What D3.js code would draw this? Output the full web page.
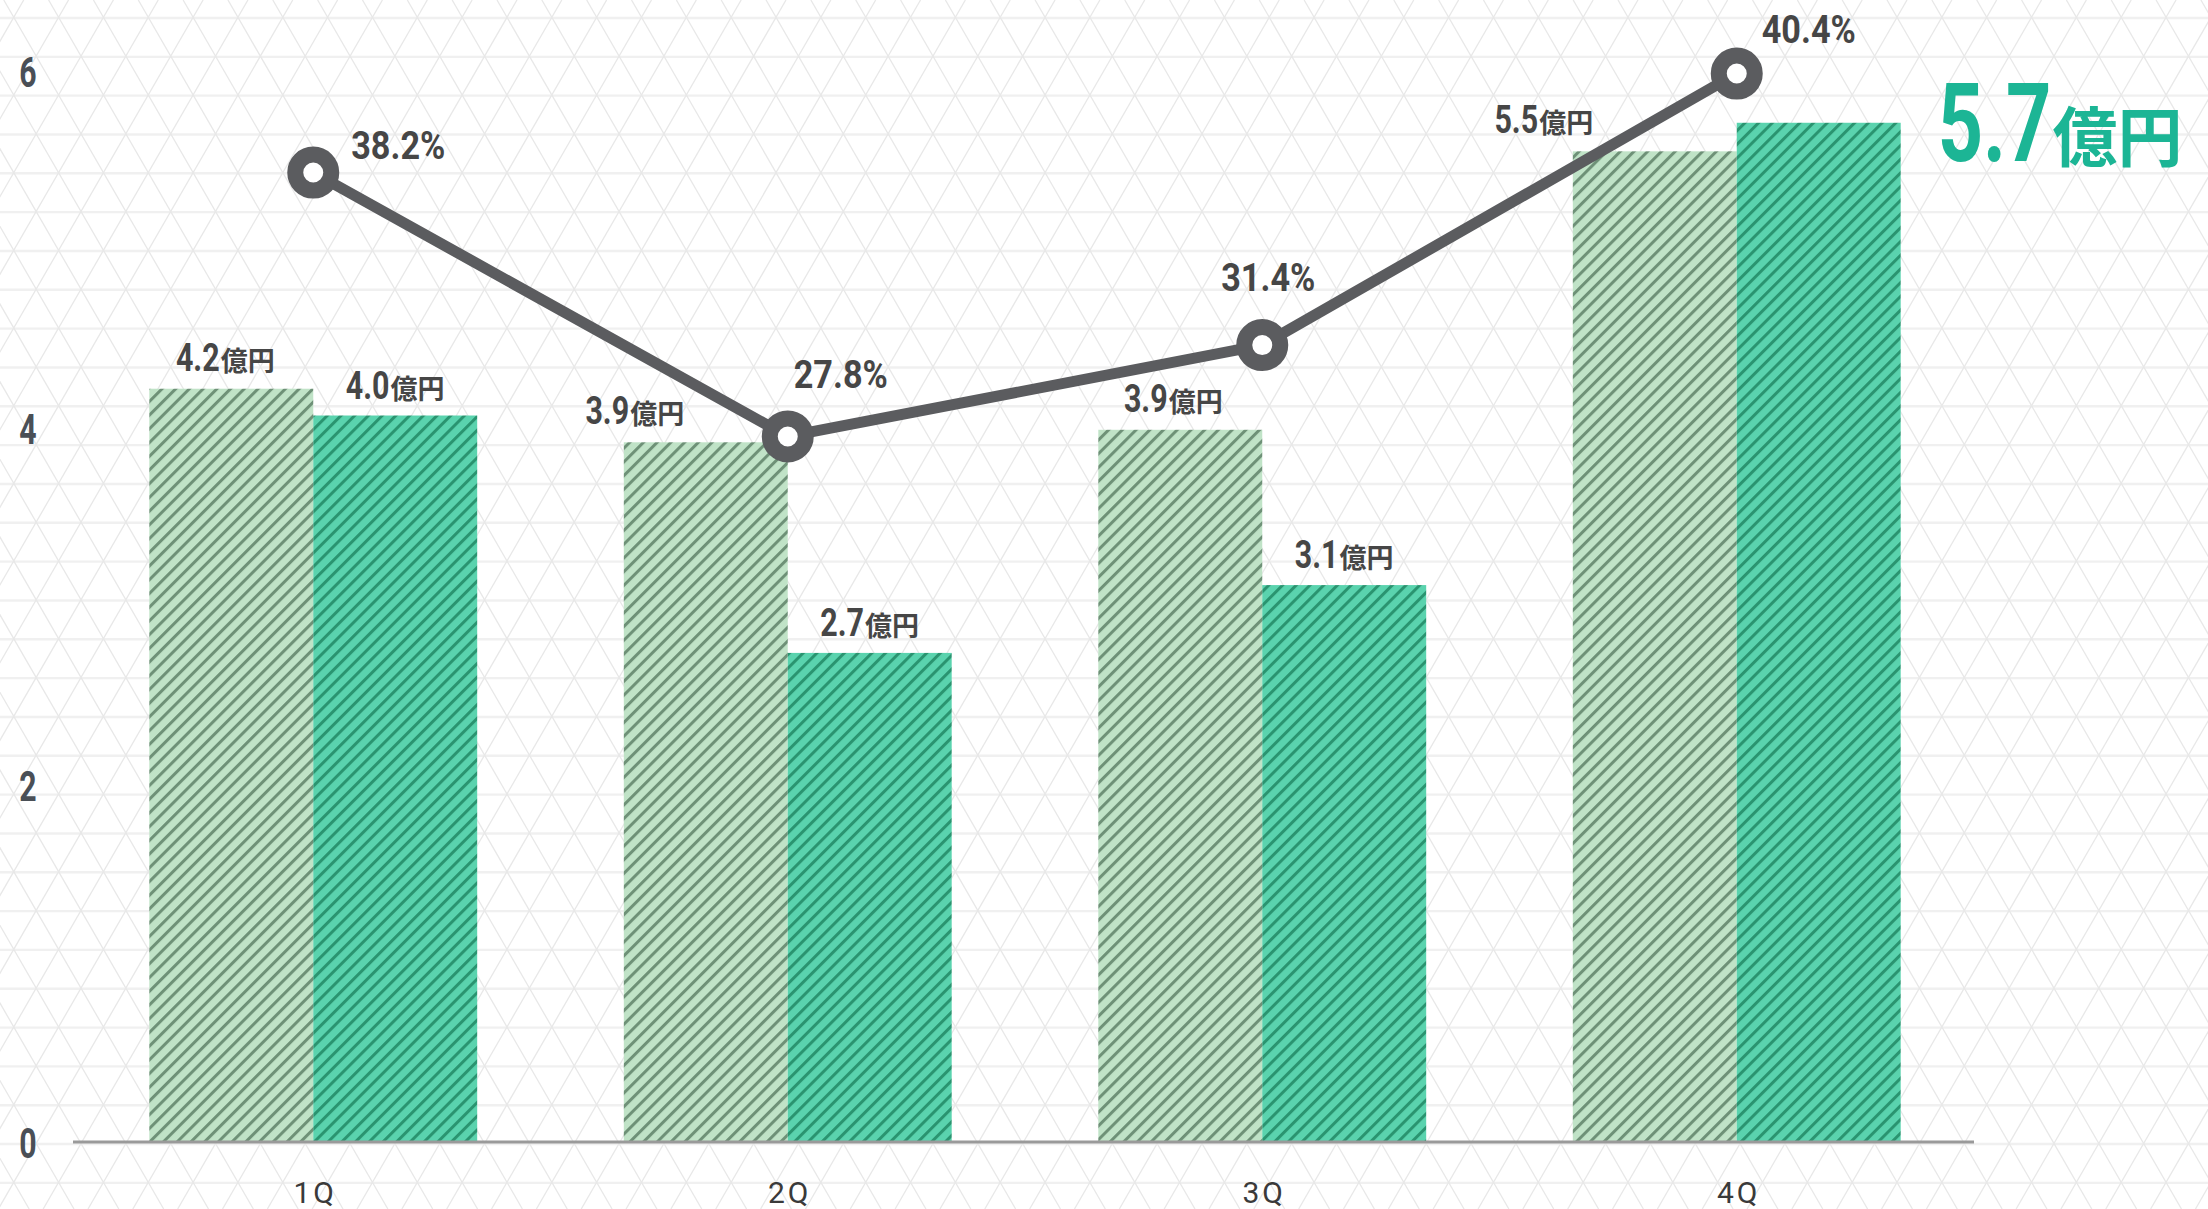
<!DOCTYPE html>
<html><head><meta charset="utf-8">
<script src="https://cdn.jsdelivr.net/npm/d3@7"></script>
<style>body{margin:0;background:#fff;overflow:hidden}</style>
</head><body><svg id="c" width="2208" height="1209"></svg>
<script>
// ---- data ----
const quarters = ["1Q", "2Q", "3Q", "4Q"];
const prevValues = [4.22, 3.92, 3.99, 5.55];
const currValues = [4.07, 2.74, 3.12, 5.71];
const prevLabels = ["4.2", "3.9", "3.9", "5.5"];
const currLabels = ["4.0", "2.7", "3.1", "5.7"];
const rateValues = [38.2, 27.8, 31.4, 42.1];
const rateLabels = ["38.2%", "27.8%", "31.4%", "40.4%"];
const yTicks = [0, 2, 4, 6];
const unit = "億円";

// ---- layout ----
const W = 2208, H = 1209;
const prevLabelDx = [-6, -71, -7, -111];
const rateLabelOffset = [[38, -14], [6, -48], [-41, -54], [25, -31]];
const NUM_FONT = "Roboto, 'Liberation Sans', sans-serif";
const CJK_FONT = "'Noto Sans CJK JP','Noto Sans CJK SC',sans-serif";

const svg = d3.select("#c");
const defs = svg.append("defs");

function stripe(id, bg, fg) {
  const p = defs.append("pattern").attr("id", id)
    .attr("patternUnits", "userSpaceOnUse")
    .attr("width", 9.7).attr("height", 9.7)
    .attr("patternTransform", "rotate(45)");
  p.append("rect").attr("width", 9.7).attr("height", 9.7).attr("fill", bg);
  p.append("rect").attr("x", 0).attr("width", 3.0).attr("height", 9.7).attr("fill", fg);
}
stripe("pPrev", "#c0e3c7", "#6e9177");
stripe("pCurr", "#5ad3ae", "#2a9470");

// ---- background lattice ----
const bg = svg.append("g");
const hStep = 38.83, vStep = 44.84, y0 = 483.3, x0 = 1986.7, s3 = Math.sqrt(3);
for (let k = -1; k < 33; k++) {
  const yy = 18 + k * hStep;
  bg.append("line").attr("x1", 0).attr("x2", W).attr("y1", yy).attr("y2", yy)
    .attr("stroke", "#f0f0f0").attr("stroke-width", 2.4);
}
for (let m = -60; m < 20; m++) {
  const xv = x0 + m * vStep;
  bg.append("line")
    .attr("x1", xv + (0 - y0) / s3).attr("y1", 0)
    .attr("x2", xv + (H - y0) / s3).attr("y2", H)
    .attr("stroke", "#e8e8e8").attr("stroke-width", 1.3);
  bg.append("line")
    .attr("x1", xv - (0 - y0) / s3).attr("y1", 0)
    .attr("x2", xv - (H - y0) / s3).attr("y2", H)
    .attr("stroke", "#e8e8e8").attr("stroke-width", 1.3);
}

// ---- scales ----
const x = d3.scaleBand().domain(quarters).range([76, 1974]).paddingInner(0.309).paddingOuter(0.1545);
const y = d3.scaleLinear().domain([0, 6]).range([1142, 71]);
const r = d3.scaleLinear().domain([0, 42.2]).range([1142, 71]);
const bw = x.bandwidth() / 2;
const cx = q => x(q) + x.bandwidth() / 2;

// ---- bars ----
svg.append("g").selectAll("rect").data(quarters).join("rect")
  .attr("x", q => x(q)).attr("width", bw)
  .attr("y", (q, i) => y(prevValues[i])).attr("height", (q, i) => y(0) - y(prevValues[i]))
  .attr("fill", "url(#pPrev)");
svg.append("g").selectAll("rect").data(quarters).join("rect")
  .attr("x", q => x(q) + bw).attr("width", bw)
  .attr("y", (q, i) => y(currValues[i])).attr("height", (q, i) => y(0) - y(currValues[i]))
  .attr("fill", "url(#pCurr)");

// ---- axes ----
svg.append("line").attr("x1", 73).attr("x2", 1974).attr("y1", y(0)).attr("y2", y(0))
  .attr("stroke", "#9a9a9a").attr("stroke-width", 3);

const tsx = 0.72;
const ya = svg.append("g").attr("transform", "translate(38,0)")
  .call(d3.axisLeft(y).tickValues(yTicks).tickSize(0).tickFormat(d3.format("d")));
ya.select(".domain").remove();
ya.selectAll("text").attr("x", -10 / tsx).attr("dy", 15).attr("text-anchor", "middle")
  .attr("transform", `scale(${tsx},1)`)
  .style("font-family", NUM_FONT).style("font-weight", "bold").style("font-size", "42px")
  .attr("fill", "#4a4f56");

const xa = svg.append("g").attr("transform", `translate(0,${y(0)})`)
  .call(d3.axisBottom(x).tickSize(0));
xa.select(".domain").remove();
xa.selectAll("text").attr("y", 61).attr("dy", 0).attr("dx", 2)
  .style("font-family", "Roboto, sans-serif").style("font-size", "30px")
  .style("letter-spacing", "3px").attr("fill", "#3a3a3a");

// ---- value labels (condensed numerals + unit) ----
function valueLabel(g, xPos, yPos, num, numSize, numSx, unitSize, color, anchor) {
  const grp = g.append("g");
  const t1 = grp.append("text").text(num).attr("fill", color)
    .attr("transform", `scale(${numSx},1)`)
    .style("font-family", NUM_FONT).style("font-weight", "bold").style("font-size", numSize + "px");
  const w1 = t1.node().getComputedTextLength() * numSx;
  const t2 = grp.append("text").text(unit).attr("fill", color).attr("x", w1 + 1)
    .style("font-family", CJK_FONT).style("font-weight", "bold").style("font-size", unitSize + "px");
  const w2 = t2.node().getComputedTextLength();
  const total = w1 + 1 + w2;
  const shift = anchor === "middle" ? total / 2 : 0;
  grp.attr("transform", `translate(${xPos - shift},${yPos})`);
  return grp;
}
const lg = svg.append("g");
quarters.forEach((q, i) => {
  valueLabel(lg, x(q) + bw / 2 + prevLabelDx[i], y(prevValues[i]) - 18, prevLabels[i], 38, 0.8, 27, "#464646", "middle");
  if (i < quarters.length - 1) {
    valueLabel(lg, x(q) + bw * 1.5, y(currValues[i]) - 17, currLabels[i], 38, 0.8, 27, "#464646", "middle");
  }
});
// highlighted latest value
const li = quarters.length - 1;
valueLabel(lg, x(quarters[li]) + 2 * bw + 37, y(currValues[li]) + 38, currLabels[li], 110, 0.72, 65, "#1cb595", "start");

// ---- rate line ----
const pts = quarters.map((q, i) => [cx(q), r(rateValues[i])]);
svg.append("path").attr("d", d3.line()(pts)).attr("fill", "none")
  .attr("stroke", "#5b5c5f").attr("stroke-width", 11).attr("stroke-linejoin", "round");
svg.append("g").selectAll("circle").data(pts).join("circle")
  .attr("cx", d => d[0]).attr("cy", d => d[1]).attr("r", 18)
  .attr("fill", "#fff").attr("stroke", "#5b5c5f").attr("stroke-width", 16);
const psx = 0.9;
svg.append("g").selectAll("text").data(pts).join("text")
  .attr("transform", (d, i) => `translate(${d[0] + rateLabelOffset[i][0]},${d[1] + rateLabelOffset[i][1]}) scale(${psx},1)`)
  .text((d, i) => rateLabels[i])
  .style("font-family", NUM_FONT).style("font-weight", "bold").style("font-size", "38px")
  .attr("fill", "#464646");
</script></body></html>
